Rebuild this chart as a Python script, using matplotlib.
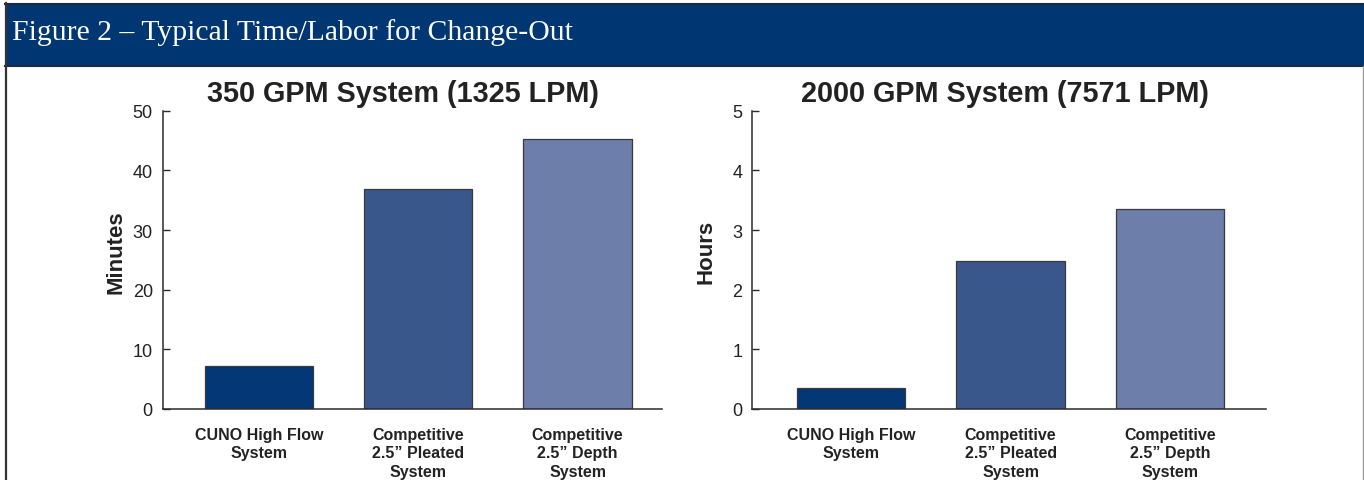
import matplotlib.pyplot as plt
from matplotlib.patches import Rectangle
from matplotlib.lines import Line2D

# data
categories = ["CUNO High Flow\nSystem", "Competitive\n2.5\u201d Pleated\nSystem", "Competitive\n2.5\u201d Depth\nSystem"]
minutes_350 = [7.2, 36.8, 45.3]
hours_2000 = [0.36, 2.48, 3.36]
bar_colors = ["#033775", "#3a578c", "#6d7eab"]

plt.rcParams["font.family"] = ["Liberation Sans", "DejaVu Sans"]

W, H = 1364, 481
fig = plt.figure(figsize=(W / 100, H / 100), dpi=100)
fig.patch.set_facecolor("white")

# header band
fig.patches.append(Rectangle((5 / W, 1 - 67 / H), 1 - 5 / W, 62 / H,
                             transform=fig.transFigure, facecolor="#003672",
                             edgecolor="none", zorder=0))
fig.text(12 / W, 1 - 40 / H, "Figure 2 \u2013 Typical Time/Labor for Change-Out",
         family=["Liberation Serif", "DejaVu Serif"], fontsize=21.4,
         color="white", va="baseline", ha="left")

# frame lines
for xs, ys, c, lw in [
    ([5 / W, 1], [1 - 4.5 / H, 1 - 4.5 / H], "#1b2a3f", 1.5),
    ([5 / W, 1], [1 - 67 / H, 1 - 67 / H], "#1b2a3f", 1.5),
    ([6 / W, 6 / W], [0, 1 - 4 / H], "#333333", 1.6),
    ([1362.5 / W, 1362.5 / W], [0, 1 - 67 / H], "#9a9a9a", 1.0),
]:
    fig.lines.append(Line2D(xs, ys, transform=fig.transFigure, color=c, lw=lw))


def draw_panel(rect, values, ymax, ystep, xlim, title, title_x, ylabel, label_x):
    ax = fig.add_axes(rect)
    x = range(len(values))
    ax.bar(x, values, width=0.68, color=bar_colors, edgecolor="#3a3a3a",
           linewidth=0.9, zorder=2)
    ax.set_xlim(*xlim)
    ax.set_ylim(0, ymax)
    ax.set_yticks([i * ystep for i in range(int(round(ymax / ystep)) + 1)])
    ax.set_xticks(list(x))
    ax.set_xticklabels(categories, fontsize=11.5, fontweight="bold",
                       color="#222222", linespacing=1.28)
    ax.tick_params(axis="x", length=0, pad=13)
    ax.tick_params(axis="y", direction="in", length=5, width=1,
                   color="#2b2b2b", labelsize=13, labelcolor="#222222", pad=7)
    for s in ["top", "right"]:
        ax.spines[s].set_visible(False)
    for s in ["left", "bottom"]:
        ax.spines[s].set_color("#2b2b2b")
        ax.spines[s].set_linewidth(1.1)
    ax.set_ylabel(ylabel, fontsize=16, fontweight="bold", color="#222222")
    ax.yaxis.set_label_coords(label_x, 0.53)
    ax.set_title(title, fontsize=20.8, fontweight="bold", color="#222222",
                 x=title_x, pad=7)
    return ax


draw_panel([162.5 / W, 1 - 410 / H, 499.5 / W, 298.3 / H], minutes_350, 50, 10,
           (-0.606, 2.53), "350 GPM System (1325 LPM)", 0.4805, "Minutes", -0.073)
draw_panel([752 / W, 1 - 410 / H, 514 / W, 298.3 / H], hours_2000, 5, 1,
           (-0.62, 2.60), "2000 GPM System (7571 LPM)", 0.493, "Hours", -0.07)

fig.savefig("out.png", dpi=100)
